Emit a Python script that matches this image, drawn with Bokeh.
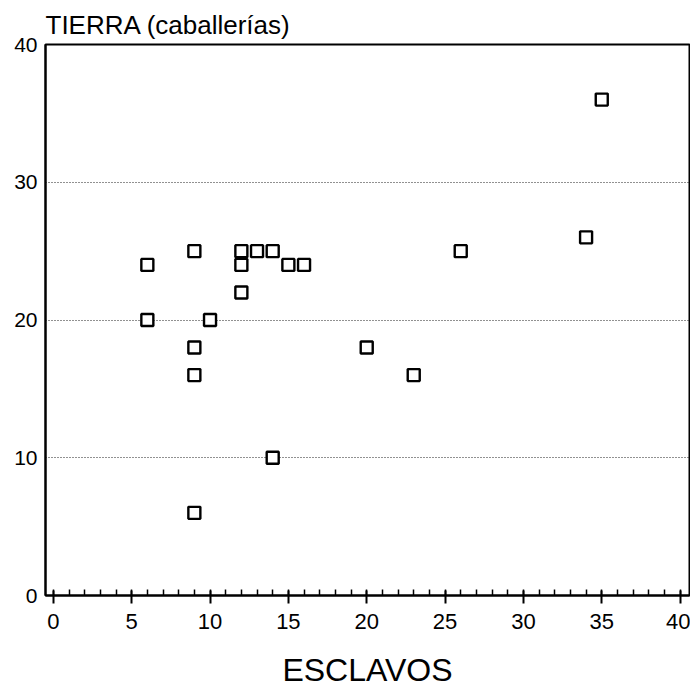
from bokeh.plotting import figure
from bokeh.models import Range1d, FixedTicker, SingleIntervalTicker
from bokeh.embed import file_html
from bokeh.resources import INLINE

# Data: ESCLAVOS (slaves) vs TIERRA (caballerías)
esclavos = [6, 6, 9, 9, 9, 9, 10, 12, 12, 12, 13, 14, 14, 15, 16, 20, 23, 26, 34, 35]
tierra = [24, 20, 25, 18, 16, 6, 20, 25, 24, 22, 25, 25, 10, 24, 24, 18, 16, 25, 26, 36]
x_ticks = [0, 5, 10, 15, 20, 25, 30, 35, 40]
y_ticks = [0, 10, 20, 30, 40]

FONT = "Liberation Sans"

p = figure(width=690, height=690, output_backend="svg", toolbar_location=None,
           x_range=Range1d(-0.5, 40.6), y_range=Range1d(0, 40),
           min_border_left=45, min_border_right=1, min_border_top=44, min_border_bottom=94)

p.title.text = "TIERRA (caballerías)"
p.title.text_font = FONT
p.title.text_font_size = "26px"
p.title.text_font_style = "normal"
p.title.text_color = "black"
p.title.align = "left"
p.title.offset = 0

p.outline_line_color = "black"
p.outline_line_width = 2
p.outline_line_alpha = 1

# x axis
xa = p.xaxis[0]
xa.ticker = SingleIntervalTicker(interval=5, num_minor_ticks=5)
xa.axis_line_width = 2
xa.axis_line_color = "black"
xa.major_tick_out = 8
xa.major_tick_in = 5
xa.major_tick_line_width = 2
xa.minor_tick_in = 6
xa.minor_tick_out = 0
xa.minor_tick_line_width = 1.5
xa.minor_tick_line_color = "black"
xa.major_label_text_font = FONT
xa.major_label_text_font_size = "22px"
xa.major_label_text_color = "black"
xa.major_label_standoff = 10
xa.axis_label = "ESCLAVOS"
xa.axis_label_text_font = FONT
xa.axis_label_text_font_size = "32px"
xa.axis_label_text_font_style = "normal"
xa.axis_label_text_color = "black"
xa.axis_label_standoff = 20

# y axis
ya = p.yaxis[0]
ya.ticker = FixedTicker(ticks=y_ticks)
ya.axis_line_width = 2
ya.axis_line_color = "black"
ya.major_tick_out = 0
ya.major_tick_in = 0
ya.minor_tick_in = 0
ya.minor_tick_out = 0
ya.major_label_text_font = FONT
ya.major_label_text_font_size = "21px"
ya.major_label_text_color = "black"
ya.major_label_standoff = 8

p.xgrid.grid_line_color = None
p.ygrid.grid_line_color = "#222222"
p.ygrid.grid_line_dash = "1 2"
p.ygrid.grid_line_width = 1

p.scatter(esclavos, tierra, marker="square", size=12, fill_color="white",
          line_color="black", line_width=2.4)

open("out.html", "w").write(file_html(p, INLINE))
